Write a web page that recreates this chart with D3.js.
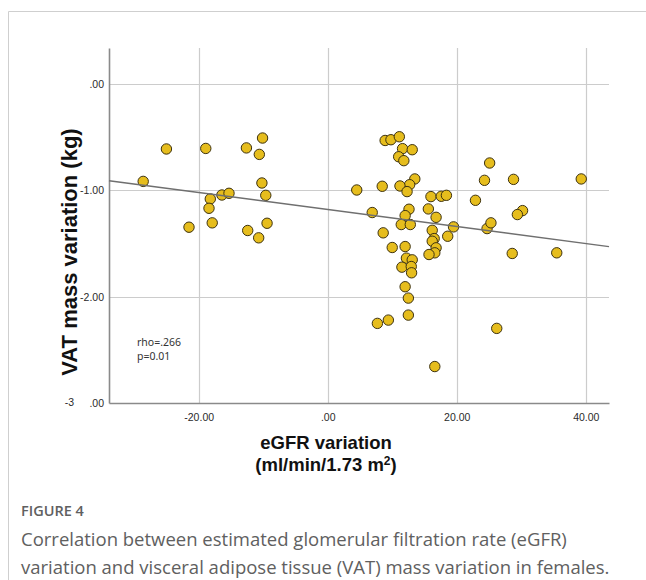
<!DOCTYPE html>
<html>
<head>
<meta charset="utf-8">
<script src="https://cdn.jsdelivr.net/npm/d3@7"></script>
<style>
  body { margin: 0; background: #fff; }
  svg { display: block; }
  .tick-label { font-family: "Liberation Sans", Arial, sans-serif; font-size: 10.5px; fill: #2a2a2a; }
  .axis-title { font-family: "Liberation Sans", Arial, sans-serif; font-weight: bold; fill: #111; }
  .note { font-family: "Noto Sans", sans-serif; font-size: 10.5px; fill: #333; }
  .caption { font-family: "Open Sans", Lato, sans-serif; fill: #606060; }
</style>
</head>
<body>
<div class="chart"></div>
<script>
// eGFR variation vs VAT mass variation, females
var egfrChange = [-28.6, -25.0, -18.9, -21.5, -18.2, -18.4, -17.9, -16.4, -15.3, -12.6,
  -10.1, -10.6, -10.2, -9.6, -9.4, -12.4, -10.7, 4.5, 8.9, 9.8,
  11.1, 11.6, 13.1, 11.0, 11.8, 13.5, 12.7, 11.2, 8.45, 12.3,
  6.9, 12.6, 12.0, 11.4, 12.8, 8.6, 10.0, 12.0, 12.2, 13.1,
  11.5, 12.95, 13.0, 12.0, 12.5, 12.5, 7.7, 9.4, 16.6, 16.0,
  17.6, 18.4, 15.6, 16.8, 19.5, 18.6, 16.2, 16.5, 16.2, 16.8,
  16.6, 15.7, 22.9, 24.3, 25.1, 28.8, 24.7, 25.3, 30.2, 29.4,
  28.6, 35.5, 26.2, 39.3];
var vatChange = [-0.915, -0.61, -0.605, -1.346, -1.08, -1.168, -1.305, -1.043, -1.027, -0.60,
  -0.507, -0.661, -0.93, -1.046, -1.309, -1.377, -1.446, -0.996, -0.53, -0.523,
  -0.495, -0.607, -0.617, -0.683, -0.72, -0.892, -0.946, -0.958, -0.961, -1.011,
  -1.208, -1.177, -1.237, -1.321, -1.321, -1.399, -1.537, -1.528, -1.637, -1.653,
  -1.722, -1.716, -1.775, -1.906, -2.013, -2.173, -2.251, -2.22, -2.657, -1.058,
  -1.055, -1.046, -1.174, -1.253, -1.343, -1.431, -1.375, -1.453, -1.478, -1.54,
  -1.587, -1.603, -1.093, -0.905, -0.742, -0.896, -1.359, -1.305, -1.19, -1.227,
  -1.593, -1.587, -2.298, -0.892];

var xTicks = [-20, 0, 20, 40];
var xTickLabels = ['-20.00', '.00', '20.00', '40.00'];
var yTicks = [0, -1, -2, -3];
var yTickLabels = ['.00', '-1.00', '-2.00', '.00'];
var yStrayLabel = '-3';

var fitIntercept = -1.18;
var fitSlope = -0.0080;
var statLines = ['rho=.266', 'p=0.01'];

var captionHead = 'FIGURE 4';
var captionLines = ['Correlation between estimated glomerular filtration rate (eGFR)',
  'variation and visceral adipose tissue (VAT) mass variation in females.'];

function drawChart() {
  var width = 646, height = 580;
  var left = 109, right = 609, top = 48, bottom = 403;

  var svg = d3.select('.chart').append('svg')
    .attr('width', width)
    .attr('height', height);

  // frame around the figure (top and left edges only visible)
  svg.append('path')
    .attr('d', 'M8.5,' + height + 'V11.5H' + width)
    .attr('fill', 'none')
    .attr('stroke', '#cfcfcf')
    .attr('stroke-width', 1);

  var x = d3.scaleLinear().domain([-33.9, 43.6]).range([left, right]);
  var y = d3.scaleLinear().domain([-3, 0.34]).range([bottom, top]);

  var grid = svg.append('g').attr('class', 'grid');
  grid.selectAll('line.v')
    .data(xTicks)
    .enter().append('line')
    .attr('class', 'v')
    .attr('x1', function(d) { return Math.round(x(d)) + 0.5; })
    .attr('x2', function(d) { return Math.round(x(d)) + 0.5; })
    .attr('y1', top)
    .attr('y2', bottom)
    .attr('stroke', '#cccccc')
    .attr('stroke-width', 1.2);
  grid.selectAll('line.h')
    .data(yTicks.slice(0, 3))
    .enter().append('line')
    .attr('class', 'h')
    .attr('x1', left)
    .attr('x2', right)
    .attr('y1', function(d) { return Math.round(y(d)) + 0.5; })
    .attr('y2', function(d) { return Math.round(y(d)) + 0.5; })
    .attr('stroke', '#cccccc')
    .attr('stroke-width', 1.2);

  // axes, drawn with d3 axis generators but restyled like SPSS
  var xAxis = svg.append('g')
    .attr('transform', 'translate(0,' + bottom + ')')
    .call(d3.axisBottom(x).tickValues(xTicks).tickSize(0).tickPadding(11)
      .tickFormat(function(d, i) { return xTickLabels[i]; }));
  var yAxis = svg.append('g')
    .attr('transform', 'translate(' + left + ',0)')
    .call(d3.axisLeft(y).tickValues(yTicks).tickSize(0).tickPadding(5)
      .tickFormat(function(d, i) { return yTickLabels[i]; }));

  [xAxis, yAxis].forEach(function(ax) {
    ax.select('.domain').attr('stroke', '#8a8a8a').attr('stroke-width', 1.6);
    ax.selectAll('text').attr('class', 'tick-label').attr('font-family', null).attr('font-size', null).attr('fill', null);
  });

  svg.append('text')
    .attr('class', 'tick-label')
    .attr('x', 74)
    .attr('y', y(-3))
    .attr('dy', '0.32em')
    .attr('text-anchor', 'end')
    .text(yStrayLabel);

  // points
  svg.append('g')
    .attr('class', 'points')
    .selectAll('circle')
    .data(egfrChange.map(function(v, i) { return { x: v, y: vatChange[i] }; }))
    .enter().append('circle')
    .attr('cx', function(d) { return x(d.x); })
    .attr('cy', function(d) { return y(d.y); })
    .attr('r', 5.2)
    .attr('fill', '#e6bd1d')
    .attr('stroke', '#3d3210')
    .attr('stroke-width', 1);

  // linear fit
  var xd = x.domain();
  svg.append('line')
    .attr('x1', x(xd[0]))
    .attr('y1', y(fitIntercept + fitSlope * xd[0]))
    .attr('x2', x(xd[1]))
    .attr('y2', y(fitIntercept + fitSlope * xd[1]))
    .attr('stroke', '#6f6f6f')
    .attr('stroke-width', 1.5);

  svg.append('g')
    .selectAll('text')
    .data(statLines)
    .enter().append('text')
    .attr('class', 'note')
    .attr('x', 137)
    .attr('y', function(d, i) { return 346 + 14 * i; })
    .text(function(d) { return d; });

  // axis titles
  var titleX = 326;
  var xTitle = svg.append('text')
    .attr('class', 'axis-title')
    .attr('x', titleX)
    .attr('y', 449)
    .attr('text-anchor', 'middle')
    .attr('font-size', '18.5px');
  xTitle.append('tspan').text('eGFR variation');
  var t2 = xTitle.append('tspan')
    .attr('x', titleX)
    .attr('dy', 22);
  t2.append('tspan').text('(ml/min/1.73 m');
  t2.append('tspan').attr('dy', -6).attr('font-size', '12px').text('2');
  t2.append('tspan').attr('dy', 6).text(')');

  svg.append('text')
    .attr('class', 'axis-title')
    .attr('transform', 'translate(77,252) rotate(-90)')
    .attr('text-anchor', 'middle')
    .attr('font-size', '22px')
    .text('VAT mass variation (kg)');

  // caption
  svg.append('text')
    .attr('class', 'caption')
    .attr('x', 21)
    .attr('y', 516)
    .attr('font-size', '14.5px')
    .attr('font-weight', 600)
    .attr('fill', '#6a6a6a')
    .text(captionHead);
  svg.append('g')
    .selectAll('text')
    .data(captionLines)
    .enter().append('text')
    .attr('class', 'caption')
    .attr('x', 21)
    .attr('y', function(d, i) { return 546 + 28 * i; })
    .attr('font-size', '18.5px')
    .text(function(d) { return d; });
}

drawChart();
</script>
</body>
</html>
